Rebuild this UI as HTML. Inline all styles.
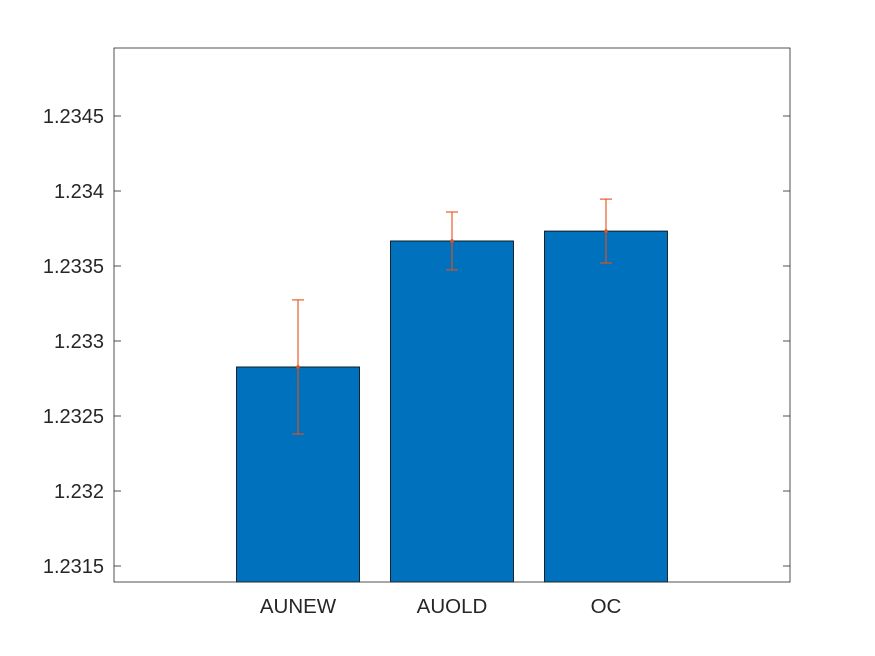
<!DOCTYPE html>
<html><head><meta charset="utf-8"><style>
body{margin:0;background:#fff}
svg{display:block;font-family:"Liberation Sans",sans-serif}
</style></head><body>
<svg id="c" width="875" height="656"></svg>
<script>
const categories=["AUNEW","AUOLD","OC"];
const values=[1.232827,1.233667,1.233733];
const errors=[0.000447,0.000193,0.000213];
const yTicks=[1.2315,1.232,1.2325,1.233,1.2335,1.234,1.2345];
const yTickLabels=["1.2315","1.232","1.2325","1.233","1.2335","1.234","1.2345"];
const L=114,R=790,T=48,B=582;
const yMin=1.2315-(16/75)*0.0005, yMax=1.2345+(68/75)*0.0005;
const xMin=-0.195, xMax=4.195;
const y=v=>B-(v-yMin)/(yMax-yMin)*(B-T);
const x=i=>L+(i-xMin)/(xMax-xMin)*(R-L);
const ns="http://www.w3.org/2000/svg";
const svg=document.getElementById('c');
function mk(t,a,p){const e=document.createElementNS(ns,t);for(const k in a)e.setAttribute(k,a[k]);(p||svg).appendChild(e);return e;}
const bw=123;
values.forEach((v,i)=>{
  const cx=x(i+1);
  const r=mk('rect',{x:cx-bw/2,y:y(v),width:bw,height:B-y(v),fill:'#0072BD',stroke:'#000','stroke-width':0.8});
  
  
  const g=mk('g',{stroke:'#E8501A','stroke-width':1.1});
  
  
  const yt=y(v+errors[i]),yb=y(v-errors[i]);
  mk('line',{x1:cx,x2:cx,y1:yt,y2:yb},g);
  mk('line',{x1:cx-6,x2:cx+6,y1:yt,y2:yt},g);
  mk('line',{x1:cx-6,x2:cx+6,y1:yb,y2:yb},g);
  mk('circle',{cx:cx,cy:y(v),r:1.8,fill:'#E8501A',stroke:'none'},g);
  const t=mk('text',{x:cx,y:B+31,'text-anchor':'middle','font-size':20.5,fill:'#262626'});
  t.textContent=categories[i];
  
  
});
const ax=mk('rect',{x:L,y:T,width:R-L,height:B-T,fill:'none',stroke:'#262626','stroke-width':0.8});


yTicks.forEach((v,i)=>{
  const yy=y(v);
  mk('line',{x1:L,x2:L+7,y1:yy,y2:yy,stroke:'#262626','stroke-width':0.8});
  mk('line',{x1:R,x2:R-7,y1:yy,y2:yy,stroke:'#262626','stroke-width':0.8});
  const t=mk('text',{x:L-10,y:yy+7,'text-anchor':'end','font-size':20,fill:'#262626'});
  t.textContent=yTickLabels[i];
  
  
});
</script>
</body></html>
